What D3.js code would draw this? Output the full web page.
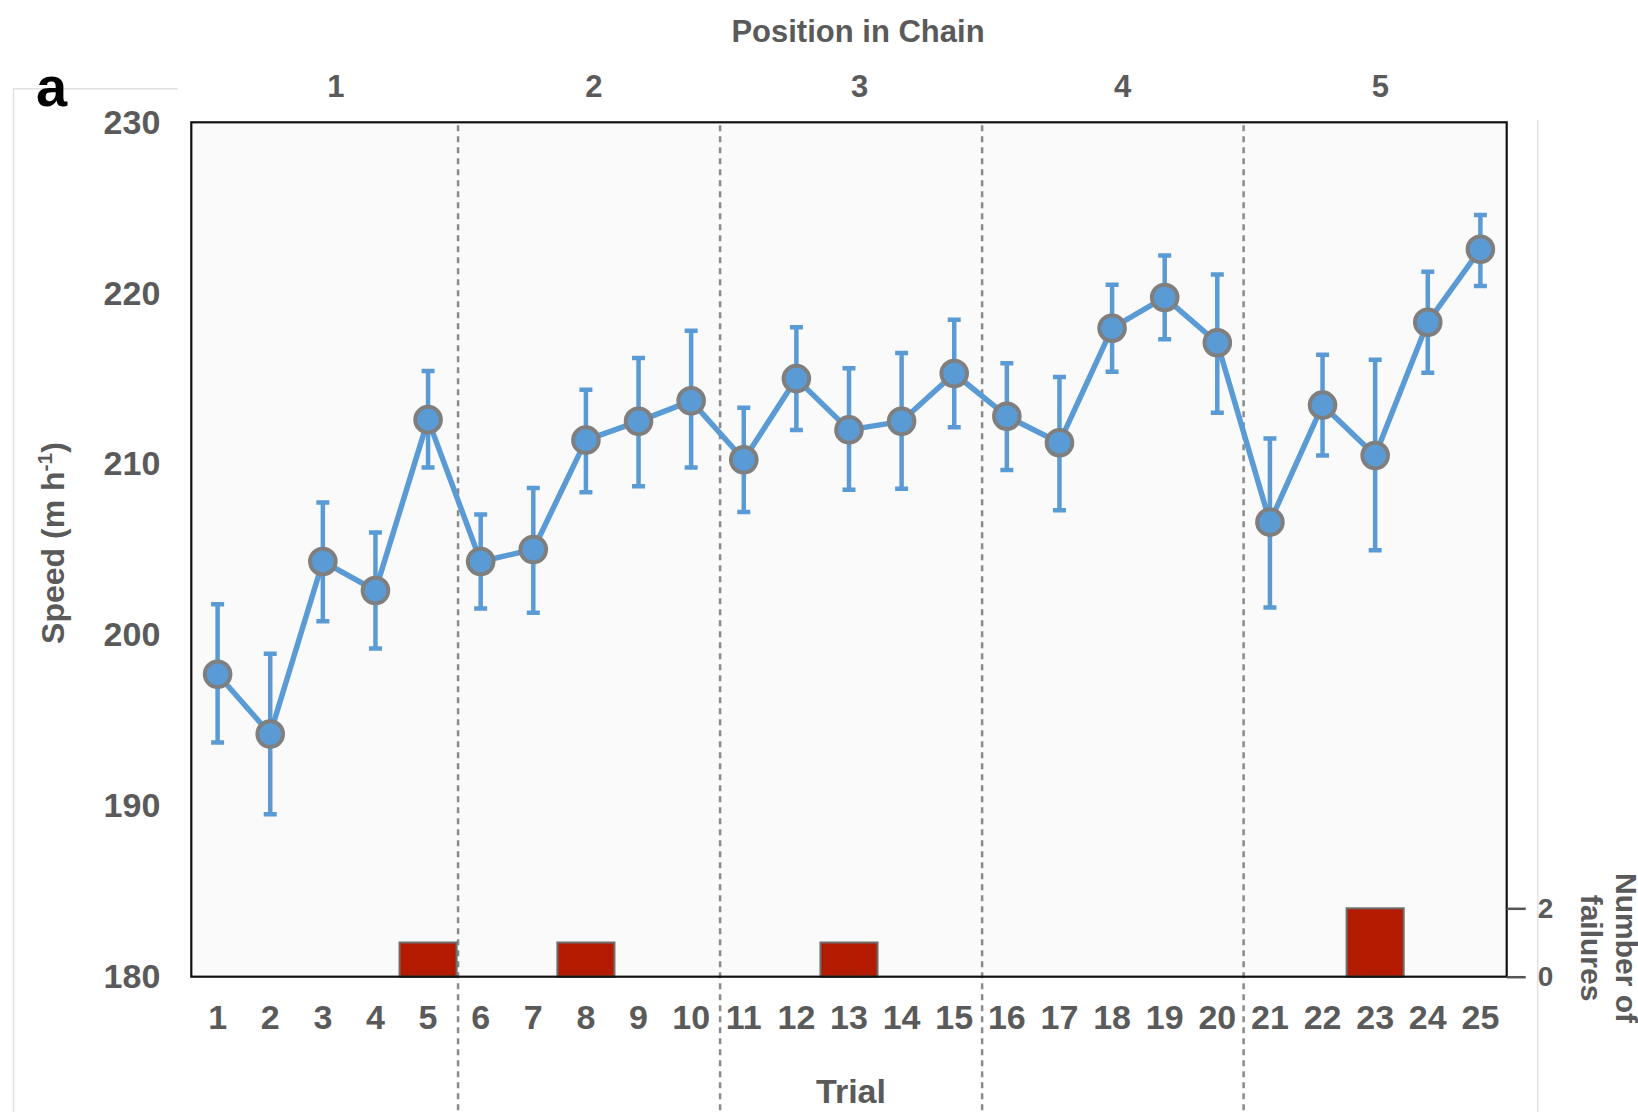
<!DOCTYPE html>
<html>
<head>
<meta charset="utf-8">
<script src="https://cdn.jsdelivr.net/npm/d3@7"></script>
<style>
  body { margin: 0; background: #fff; }
  svg text { font-family: "Liberation Sans", Arial, sans-serif; }
</style>
</head>
<body>
<div id="chart"></div>
<script>
// trial numbers and mean speed (m/h) with error half-widths
const trials = d3.range(1, 26);
const speed = [197.7, 194.2, 204.3, 202.6, 212.6, 204.3, 205.0, 211.4, 212.5, 213.7,
               210.25, 215.0, 212.0, 212.5, 215.3, 212.8, 211.25, 217.95, 219.75, 217.1,
               206.6, 213.45, 210.5, 218.3, 222.57];
const errUp = [4.1, 4.7, 3.45, 3.4, 2.85, 2.75, 3.6, 2.95, 3.7, 4.1,
               3.05, 3.0, 3.6, 4.0, 3.15, 3.1, 3.85, 2.55, 2.45, 4.0,
               4.9, 2.95, 5.6, 2.95, 2.0];
const errDown = [4.0, 4.7, 3.5, 3.4, 2.8, 2.75, 3.7, 3.05, 3.8, 3.9,
                 3.05, 3.0, 3.5, 3.95, 3.15, 3.15, 3.95, 2.55, 2.45, 4.1,
                 5.0, 2.95, 5.55, 2.95, 2.15];
// failures per trial
const failTrials = [5, 8, 13, 23];
const failCounts = [1, 1, 1, 2];
// position in chain
const chainLabels = ["1", "2", "3", "4", "5"];
const chainCenters = [3.25, 8.15, 13.2, 18.2, 23.1];
const chainBreaks = [5.57, 10.55, 15.53, 20.5];
const speedTicks = [180, 190, 200, 210, 220, 230];
const failTicks = [0, 2];

const W = 1638, H = 1112;
const pLeft = 191.3, pRight = 1506.7, pTop = 122.3, pBottom = 976.7;
const blue = "#5b9bd5", txt = "#5a5a5a";

const svg = d3.select("#chart").append("svg")
    .attr("width", W).attr("height", H);

// faint frame lines
svg.append("path")
    .attr("d", `M13.5,${H} V88.7 H178 M1537.7,120 V${H}`)
    .attr("fill", "none").attr("stroke", "#e2e2e2").attr("stroke-width", 1.5);

const x = d3.scaleBand().domain(trials).range([pLeft, pRight]);
const xLin = d3.scaleLinear().domain([0.5, 25.5]).range([pLeft, pRight]);
const y = d3.scaleLinear().domain([180, 230]).range([pBottom, pTop]);
const yf = d3.scaleLinear().domain([0, 2]).range([pBottom, 908.3]);
const cx = t => x(t) + x.bandwidth() / 2;

// plot background
svg.append("rect")
    .attr("x", pLeft).attr("y", pTop)
    .attr("width", pRight - pLeft).attr("height", pBottom - pTop)
    .attr("fill", "#fafafa");

// chain dividers
svg.selectAll(".div").data(chainBreaks).enter().append("line")
    .attr("x1", d => xLin(d)).attr("x2", d => xLin(d))
    .attr("y1", pTop + 3).attr("y2", H)
    .attr("stroke", "#8a8a8a").attr("stroke-width", 2.5)
    .attr("stroke-dasharray", "6,5");

// failure bars
const bw = x.bandwidth() * 1.085;
svg.selectAll(".fail").data(failTrials).enter().append("rect")
    .attr("x", d => cx(d) - bw / 2)
    .attr("y", (d, i) => yf(failCounts[i]))
    .attr("width", bw)
    .attr("height", (d, i) => pBottom - yf(failCounts[i]))
    .attr("fill", "#b31a00").attr("stroke", "#6e6e6e").attr("stroke-width", 2);

// error bars
const eb = svg.append("g").attr("stroke", blue).attr("stroke-width", 4.5).attr("fill", "none");
trials.forEach((t, i) => {
  const hi = y(speed[i] + errUp[i]), lo = y(speed[i] - errDown[i]);
  eb.append("path")
    .attr("d", `M${cx(t)},${hi}V${lo}M${cx(t) - 6.5},${hi}H${cx(t) + 6.5}M${cx(t) - 6.5},${lo}H${cx(t) + 6.5}`);
});

// line
svg.append("path")
    .datum(trials)
    .attr("d", d3.line().x(t => cx(t)).y((t, i) => y(speed[i])))
    .attr("fill", "none").attr("stroke", blue).attr("stroke-width", 5.5)
    .attr("stroke-linejoin", "round");

// markers
svg.selectAll(".pt").data(trials).enter().append("circle")
    .attr("cx", t => cx(t)).attr("cy", (t, i) => y(speed[i]))
    .attr("r", 12.8)
    .attr("fill", blue).attr("stroke", "#7f7f7f").attr("stroke-width", 4);

// plot frame
svg.append("rect")
    .attr("x", pLeft).attr("y", pTop)
    .attr("width", pRight - pLeft).attr("height", pBottom - pTop)
    .attr("fill", "none").attr("stroke", "#111").attr("stroke-width", 2.2);

// left axis
const ya = svg.append("g").attr("transform", `translate(${pLeft},0)`)
    .call(d3.axisLeft(y).tickValues(speedTicks).tickSize(0).tickPadding(31));
ya.select(".domain").remove();
ya.selectAll("text").attr("font-size", 34).attr("font-weight", "bold")
    .attr("fill", txt).attr("font-family", "Liberation Sans, Arial, sans-serif");

// bottom axis
const xa = svg.append("g").attr("transform", `translate(0,${pBottom})`)
    .call(d3.axisBottom(x).tickSize(0).tickPadding(28));
xa.select(".domain").remove();
xa.selectAll("text").attr("font-size", 34).attr("font-weight", "bold")
    .attr("fill", txt).attr("font-family", "Liberation Sans, Arial, sans-serif");

// right axis (failures)
const fa = svg.append("g").attr("transform", `translate(${pRight},0)`)
    .call(d3.axisRight(yf).tickValues(failTicks).tickFormat(d3.format("d"))
      .tickSize(19).tickPadding(12));
fa.select(".domain").remove();
fa.selectAll("line").attr("stroke", "#555").attr("stroke-width", 2.5);
fa.selectAll("text").attr("font-size", 28).attr("font-weight", "bold")
    .attr("fill", txt).attr("font-family", "Liberation Sans, Arial, sans-serif");

// chain position labels
svg.selectAll(".chain").data(chainLabels).enter().append("text")
    .attr("x", (d, i) => xLin(chainCenters[i])).attr("y", 97.3)
    .attr("text-anchor", "middle").attr("font-size", 31).attr("font-weight", "bold")
    .attr("fill", txt).text(d => d);

svg.append("text").attr("x", 858).attr("y", 41.7)
    .attr("text-anchor", "middle").attr("font-size", 31).attr("font-weight", "bold")
    .attr("fill", txt).text("Position in Chain");

svg.append("text").attr("x", 851).attr("y", 1103.3)
    .attr("text-anchor", "middle").attr("font-size", 34).attr("font-weight", "bold")
    .attr("fill", txt).text("Trial");

// y label with superscript
const yl = svg.append("text")
    .attr("transform", "translate(64,543) rotate(-90)")
    .attr("text-anchor", "middle").attr("font-size", 32).attr("font-weight", "bold")
    .attr("fill", txt);
yl.append("tspan").text("Speed (m h");
yl.append("tspan").attr("dy", -12).attr("font-size", 21).text("-1");
yl.append("tspan").attr("dy", 12).text(")");

// right label
const rl = svg.append("text")
    .attr("transform", "translate(1610,948) rotate(90)")
    .attr("text-anchor", "middle").attr("font-size", 30).attr("font-weight", "bold")
    .attr("fill", txt);
rl.append("tspan").attr("x", 0).attr("y", -6.2).text("Number of");
rl.append("tspan").attr("x", 0).attr("y", 28.8).text("failures");

// panel letter
svg.append("text").attr("x", 36).attr("y", 106)
    .attr("font-size", 56).attr("font-weight", "bold").attr("fill", "#000").text("a");
</script>
</body>
</html>
